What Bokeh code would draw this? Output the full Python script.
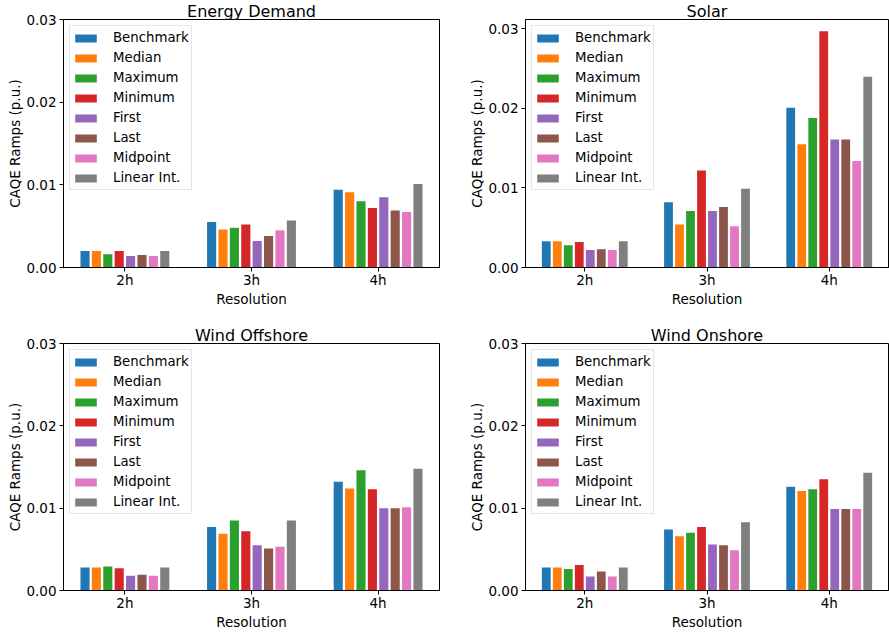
from bokeh.plotting import figure
from bokeh.layouts import column, row
from bokeh.models import FixedTicker, NumeralTickFormatter, Range1d
from bokeh.embed import file_html
from bokeh.resources import INLINE

resolutions = ["2h", "3h", "4h"]
methods = ["Benchmark", "Median", "Maximum", "Minimum", "First", "Last", "Midpoint", "Linear Int."]
colors = ["#1f77b4", "#ff7f0e", "#2ca02c", "#d62728", "#9467bd", "#8c564b", "#e377c2", "#7f7f7f"]
y_ticks = [0.0, 0.01, 0.02, 0.03]

energy_demand = {
    "Benchmark":   [0.0020, 0.0055, 0.0094],
    "Median":      [0.0020, 0.0046, 0.0091],
    "Maximum":     [0.0016, 0.0048, 0.0080],
    "Minimum":     [0.0020, 0.0052, 0.0072],
    "First":       [0.0014, 0.0032, 0.0085],
    "Last":        [0.0015, 0.0038, 0.0069],
    "Midpoint":    [0.0014, 0.0045, 0.0067],
    "Linear Int.": [0.0020, 0.0057, 0.0101],
}
solar = {
    "Benchmark":   [0.0033, 0.0082, 0.0201],
    "Median":      [0.0033, 0.0054, 0.0155],
    "Maximum":     [0.0028, 0.0071, 0.0188],
    "Minimum":     [0.0032, 0.0122, 0.0297],
    "First":       [0.0022, 0.0071, 0.0161],
    "Last":        [0.0023, 0.0076, 0.0161],
    "Midpoint":    [0.0022, 0.0052, 0.0134],
    "Linear Int.": [0.0033, 0.0099, 0.0240],
}
wind_offshore = {
    "Benchmark":   [0.0028, 0.0077, 0.0132],
    "Median":      [0.0028, 0.0069, 0.0124],
    "Maximum":     [0.0029, 0.0085, 0.0146],
    "Minimum":     [0.0027, 0.0072, 0.0123],
    "First":       [0.0018, 0.0055, 0.0100],
    "Last":        [0.0019, 0.0051, 0.0100],
    "Midpoint":    [0.0018, 0.0053, 0.0101],
    "Linear Int.": [0.0028, 0.0085, 0.0148],
}
wind_onshore = {
    "Benchmark":   [0.0028, 0.0074, 0.0126],
    "Median":      [0.0028, 0.0066, 0.0121],
    "Maximum":     [0.0026, 0.0070, 0.0123],
    "Minimum":     [0.0031, 0.0077, 0.0135],
    "First":       [0.0017, 0.0056, 0.0099],
    "Last":        [0.0023, 0.0055, 0.0099],
    "Midpoint":    [0.0017, 0.0049, 0.0099],
    "Linear Int.": [0.0028, 0.0083, 0.0143],
}

FONT = "DejaVu Sans"
BAR_STEP = 0.09
BAR_WIDTH = 0.072


def panel(title, data, width, height, borders):
    left, right, top, bottom = borders
    y_max = max(max(v) for v in data.values())
    y_end = max(0.03, y_max * 1.05)
    p = figure(width=width, height=height, output_backend="svg", toolbar_location=None,
               x_range=Range1d(-0.485, 2.485), y_range=Range1d(0, y_end),
               min_border_left=left, min_border_right=right,
               min_border_top=top, min_border_bottom=bottom)
    p.title.text = title
    p.title.align = "center"
    p.title.text_font = FONT
    p.title.text_font_size = "16px"
    p.title.text_font_style = "normal"
    p.title.text_color = "black"
    p.title.standoff = -3
    p.title.offset = 0

    for j, (m, c) in enumerate(zip(methods, colors)):
        xs = [i + (j - 3.5) * BAR_STEP for i in range(len(resolutions))]
        p.vbar(x=xs, top=data[m], width=BAR_WIDTH, bottom=0, fill_color=c,
               line_color=None, legend_label=m)

    p.xgrid.visible = False
    p.ygrid.visible = False
    p.outline_line_color = "black"
    p.outline_line_width = 1
    p.outline_line_alpha = 1
    p.background_fill_color = "white"
    p.border_fill_color = "white"

    p.xaxis.ticker = FixedTicker(ticks=list(range(len(resolutions))))
    p.xaxis.major_label_overrides = {i: r for i, r in enumerate(resolutions)}
    p.xaxis.axis_label = "Resolution"
    p.yaxis.ticker = FixedTicker(ticks=y_ticks)
    p.yaxis.formatter = NumeralTickFormatter(format="0.00")
    p.yaxis.axis_label = "CAQE Ramps (p.u.)"

    for ax in (p.xaxis[0], p.yaxis[0]):
        ax.axis_line_color = "black"
        ax.major_tick_line_color = "black"
        ax.minor_tick_line_color = None
        ax.major_tick_in = 0
        ax.major_tick_out = 4
        ax.major_label_text_font = FONT
        ax.major_label_text_font_size = "13.5px"
        ax.major_label_text_color = "black"
        ax.axis_label_text_font = FONT
        ax.axis_label_text_font_size = "13.5px"
        ax.axis_label_text_font_style = "normal"
        ax.axis_label_text_color = "black"
    p.xaxis.major_label_standoff = 0
    p.xaxis.axis_label_standoff = 0
    p.yaxis.major_label_standoff = 3
    p.yaxis.axis_label_standoff = 0

    lg = p.legend[0]
    lg.location = "top_left"
    lg.margin = 6
    lg.padding = 2
    lg.spacing = 1
    lg.label_height = 19
    lg.glyph_height = 10
    lg.glyph_width = 27
    lg.label_standoff = 14
    lg.label_text_font = FONT
    lg.label_text_font_size = "13.3px"
    lg.label_text_color = "black"
    lg.border_line_color = "#cccccc"
    lg.border_line_width = 1
    lg.background_fill_alpha = 0.8
    return p


p1 = panel("Energy Demand", energy_demand, 466, 320, (63, 27, 19, 53))
p2 = panel("Solar", solar, 423, 320, (55, 1, 19, 53))
p3 = panel("Wind Offshore", wind_offshore, 466, 312, (63, 27, 23, 42))
p4 = panel("Wind Onshore", wind_onshore, 423, 312, (55, 1, 23, 42))

layout = column(row(p1, p2, spacing=0), row(p3, p4, spacing=0), spacing=0)
open("out.html", "w").write(file_html(layout, INLINE))
